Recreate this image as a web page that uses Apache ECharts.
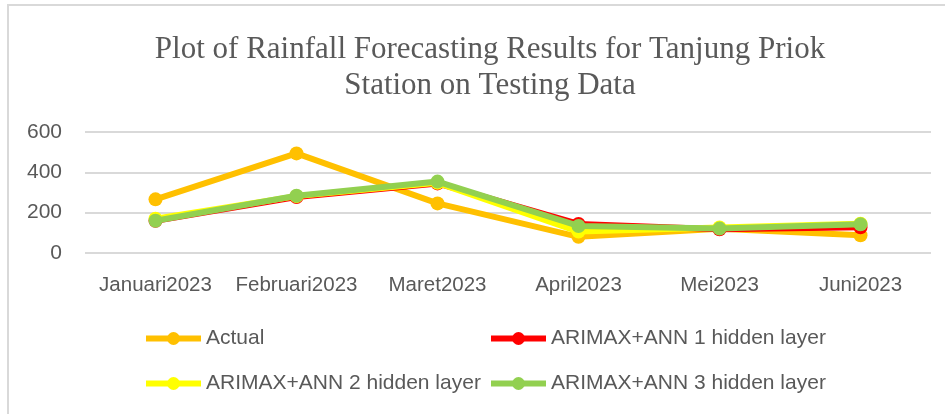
<!DOCTYPE html>
<html>
<head>
<meta charset="utf-8">
<script src="https://cdn.jsdelivr.net/npm/echarts@6/dist/echarts.min.js"></script>
<style>html,body{margin:0;padding:0;background:#fff;}#c{width:945px;height:414px;}</style>
</head>
<body>
<div id="c"></div>
<script>
var titleText = 'Plot of Rainfall Forecasting Results for Tanjung Priok\nStation on Testing Data';
var categories = ['Januari2023', 'Februari2023', 'Maret2023', 'April2023', 'Mei2023', 'Juni2023'];
var yTicks = [0, 200, 400, 600];
var actual = [266, 494, 246, 80, 120, 88];
var ann1 = [160, 278, 345, 144, 118, 128];
var ann2 = [170, 282, 348, 106, 127, 145];
var ann3 = [160, 284, 354, 134, 121, 142];
var seriesNames = ['Actual', 'ARIMAX+ANN 1 hidden layer', 'ARIMAX+ANN 2 hidden layer', 'ARIMAX+ANN 3 hidden layer'];
var colors = ['#FFC000', '#FF0000', '#FFFF00', '#92D050'];
var seriesData = [actual, ann1, ann2, ann3];

var chart = echarts.init(document.getElementById('c'), null, {renderer: 'canvas'});
var labelFont = '"Liberation Sans", Arial, sans-serif';
var legendPos = [[138, 323], [483, 323], [138, 368], [483, 368]];

var option = {
  animation: false,
  backgroundColor: '#ffffff',
  graphic: [{
    type: 'rect', shape: {x: 8, y: 5, width: 960, height: 430},
    style: {fill: 'none', stroke: '#d9d9d9', lineWidth: 2}, silent: true, z: -10
  }],
  title: {
    text: titleText, left: 485, top: 27, textAlign: 'center',
    textStyle: {fontFamily: '"Liberation Serif", "Times New Roman", serif', fontSize: 31, fontWeight: 'normal', color: '#595959', lineHeight: 36}
  },
  grid: {left: 85, right: 14, top: 132, bottom: 161, containLabel: false},
  xAxis: {
    type: 'category', data: categories, boundaryGap: true,
    axisLine: {show: false}, axisTick: {show: false},
    axisLabel: {fontFamily: labelFont, fontSize: 20.5, color: '#595959', margin: 22, interval: 0}
  },
  yAxis: {
    type: 'value', min: yTicks[0], max: yTicks[yTicks.length - 1], interval: 200,
    axisLine: {show: false}, axisTick: {show: false},
    axisLabel: {fontFamily: labelFont, fontSize: 21, color: '#595959', margin: 23},
    splitLine: {lineStyle: {color: '#d9d9d9', width: 2}}
  },
  legend: seriesNames.map(function (n, i) {
    return {
      data: [n], left: legendPos[i][0], top: legendPos[i][1], itemWidth: 55, itemHeight: 16, itemGap: 0,
      lineStyle: {width: 6},
      textStyle: {fontFamily: labelFont, fontSize: 21, color: '#595959'},
      selectedMode: false
    };
  }),
  series: seriesNames.map(function (n, i) {
    return {
      name: n, type: 'line', data: seriesData[i],
      symbol: 'circle', symbolSize: 14, showSymbol: true,
      lineStyle: {color: colors[i], width: 6},
      itemStyle: {color: colors[i]},
      z: 2 + i
    };
  })
};
chart.setOption(option);
</script>
</body>
</html>
